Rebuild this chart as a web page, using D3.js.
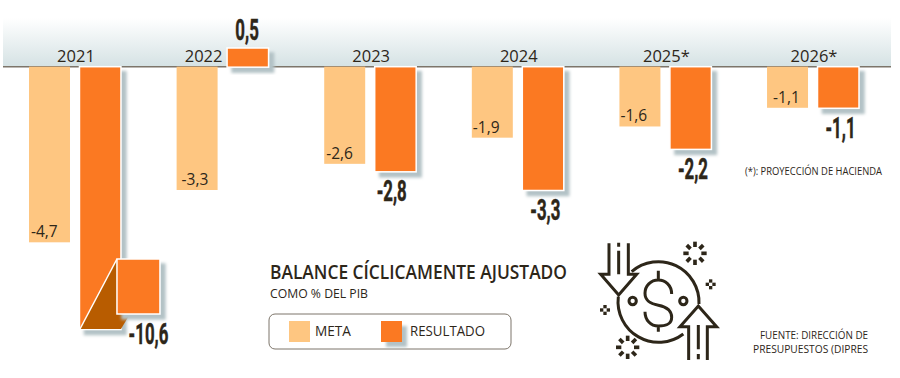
<!DOCTYPE html>
<html>
<head>
<meta charset="utf-8">
<script src="https://cdn.jsdelivr.net/npm/d3@7"></script>
<style>
  html, body { margin: 0; padding: 0; background: #fff; }
  svg { display: block; }
  text { font-family: "Open Sans", sans-serif; fill: #2d2619; }
</style>
</head>
<body>
<div id="chart"></div>
<script>
// Balance ciclicamente ajustado, meta vs resultado

const years = ["2021", "2022", "2023", "2024", "2025*", "2026*"];
const series = ["META", "RESULTADO"];
const meta = [-4.7, -3.3, -2.6, -1.9, -1.6, -1.1];
const resultado = [-10.6, 0.5, -2.8, -3.3, -2.2, -1.1];

const width = 900;
const height = 378;
const colorMeta = "#fec681";
const colorResult = "#fb7923";
const colorFold = "#b85c00";
const fmt = v => String(v).replace(".", ",");

const svg = d3.select("#chart")
  .append("svg")
  .attr("width", width)
  .attr("height", height);

const defs = svg.append("defs");

const grad = defs.append("linearGradient")
  .attr("id", "band")
  .attr("x1", 0).attr("x2", 0).attr("y1", 0).attr("y2", 1);
grad.append("stop").attr("offset", 0).attr("stop-color", "#ffffff");
grad.append("stop").attr("offset", 1).attr("stop-color", "#d5e2e4");

defs.append("filter")
  .attr("id", "shadow")
  .attr("x", "-30%").attr("y", "-30%")
  .attr("width", "170%").attr("height", "170%")
  .append("feDropShadow")
  .attr("dx", 5).attr("dy", 5)
  .attr("stdDeviation", 1.4)
  .attr("flood-color", "#b3c2c6");

const x0 = d3.scaleBand()
  .domain(years)
  .range([29, 859])
  .paddingInner(0.377)
  .paddingOuter(0);

const x1 = d3.scaleBand()
  .domain(series)
  .range([0, x0.bandwidth()])
  .paddingInner(0.196)
  .paddingOuter(0);

// clamp: the -10,6 bar is cut off at the bottom and gets the fold drawn on it
const y = d3.scaleLinear()
  .domain([-7.02, 0.5])
  .range([329, 48])
  .clamp(true);

const baseY = y(0);

// Top band
svg.append("rect")
  .attr("x", 3)
  .attr("y", 18)
  .attr("width", 888)
  .attr("height", baseY - 18)
  .attr("fill", "url(#band)");

svg.append("line")
  .attr("x1", 3)
  .attr("x2", 891)
  .attr("y1", baseY)
  .attr("y2", baseY)
  .attr("stroke", "#7d756a")
  .attr("stroke-width", 1.5);

// Year labels
svg.selectAll("text.year")
  .data(years)
  .enter()
  .append("text")
  .attr("class", "year")
  .attr("x", (d, i) => x0(d) + x0.bandwidth() / 2 + 1 + (resultado[i] > 0 ? -20 : 0))
  .attr("y", baseY - 5)
  .attr("text-anchor", "middle")
  .style("font-size", "16.5px")
  .text(d => d);

// Meta bars
svg.selectAll("rect.meta")
  .data(meta)
  .enter()
  .append("rect")
  .attr("class", "meta")
  .attr("x", (d, i) => x0(years[i]) + x1("META"))
  .attr("y", baseY)
  .attr("width", x1.bandwidth())
  .attr("height", d => y(d) - baseY)
  .attr("fill", colorMeta);

// Resultado bars
svg.selectAll("rect.result")
  .data(resultado)
  .enter()
  .append("rect")
  .attr("class", "result")
  .attr("x", (d, i) => x0(years[i]) + x1("RESULTADO") - 0.5)
  .attr("y", d => Math.min(y(d), baseY))
  .attr("width", x1.bandwidth() + 0.5)
  .attr("height", d => Math.abs(y(d) - baseY) + 0.5)
  .attr("fill", colorResult)
  .attr("stroke", "#fff")
  .attr("stroke-width", 1.5)
  .attr("filter", "url(#shadow)");

// Meta labels
const metaNudge = [2, 5, 2, 1, 1, 6];
svg.selectAll("text.metaLabel")
  .data(meta)
  .enter()
  .append("text")
  .attr("class", "metaLabel")
  .attr("x", (d, i) => x0(years[i]) + x1("META") + metaNudge[i])
  .attr("y", d => y(d) - 5)
  .style("font-size", "15.5px")
  .style("font-weight", 500)
  .text(fmt);

// Fold on the cut bar
const cutYear = years[resultado.indexOf(d3.min(resultado))];
const cutX = x0(cutYear) + x1("RESULTADO");
const cutW = x1.bandwidth();
const cutBottom = y(d3.min(resultado));

svg.append("path")
  .attr("d", d3.line()([
    [cutX, cutBottom],
    [cutX + cutW, cutBottom],
    [cutX + cutW + 9, cutBottom - 15],
    [cutX + cutW + 9, cutBottom - 70],
    [cutX + cutW - 4, cutBottom - 70]
  ]) + "Z")
  .attr("fill", colorFold)
  .attr("stroke", "none");

svg.append("line")
  .attr("x1", cutX)
  .attr("y1", cutBottom)
  .attr("x2", cutX + cutW - 4)
  .attr("y2", cutBottom - 70)
  .attr("stroke", "#fff")
  .attr("stroke-width", 1.5);

svg.append("rect")
  .attr("x", cutX + cutW - 4)
  .attr("y", cutBottom - 70)
  .attr("width", 43)
  .attr("height", 55)
  .attr("fill", colorResult)
  .attr("stroke", "#fff")
  .attr("stroke-width", 1.5)
  .attr("filter", "url(#shadow)");

// Resultado labels, condensed by squeezing the glyphs
const resultNudge = [48, -1, -4, 2, 2, 2];
svg.selectAll("text.resultLabel")
  .data(resultado)
  .enter()
  .append("text")
  .attr("class", "resultLabel")
  .attr("transform", (d, i) => {
    const cx = x0(years[i]) + x1("RESULTADO") + x1.bandwidth() / 2 + resultNudge[i];
    let by = y(d) + 30;
    if (d > 0) by = y(d) - 8;
    if (d === d3.min(resultado)) by = y(d) + 15;
    return `translate(${cx},${by}) scale(0.58,1)`;
  })
  .attr("text-anchor", "middle")
  .style("font-family", "Roboto, sans-serif")
  .style("font-weight", 700)
  .style("font-size", "29px")
  .style("stroke", "#2d2619")
  .style("stroke-width", 0.5)
  .text(fmt);

// Title
svg.append("text")
  .attr("x", 270)
  .attr("y", 279)
  .attr("textLength", 297)
  .attr("lengthAdjust", "spacingAndGlyphs")
  .style("font-size", "19px")
  .style("font-weight", 600)
  .text("BALANCE CÍCLICAMENTE AJUSTADO");

svg.append("text")
  .attr("x", 270)
  .attr("y", 298)
  .attr("textLength", 98)
  .attr("lengthAdjust", "spacingAndGlyphs")
  .style("font-size", "12.5px")
  .text("COMO % DEL PIB");

// Legend
svg.append("rect")
  .attr("x", 269)
  .attr("y", 314)
  .attr("width", 242)
  .attr("height", 35)
  .attr("rx", 6)
  .attr("fill", "#fff")
  .attr("stroke", "#7d756a")
  .attr("stroke-width", 1);

const legendX = d3.scaleOrdinal().domain(series).range([289, 381]);
const legendLen = d3.scaleOrdinal().domain(series).range([36, 75]);
const legendGap = d3.scaleOrdinal().domain(series).range([26, 29]);

svg.selectAll("rect.swatch")
  .data(series)
  .enter()
  .append("rect")
  .attr("class", "swatch")
  .attr("x", d => legendX(d))
  .attr("y", 321)
  .attr("width", 21)
  .attr("height", 21)
  .attr("fill", d => d === "META" ? colorMeta : colorResult)
  .attr("filter", d => d === "META" ? null : "url(#shadow)");

svg.selectAll("text.legend")
  .data(series)
  .enter()
  .append("text")
  .attr("class", "legend")
  .attr("x", d => legendX(d) + legendGap(d))
  .attr("y", 336)
  .attr("textLength", d => legendLen(d))
  .attr("lengthAdjust", "spacingAndGlyphs")
  .style("font-size", "15px")
  .text(d => d);

// Notes
svg.append("text")
  .attr("x", 745)
  .attr("y", 175)
  .attr("textLength", 137)
  .attr("lengthAdjust", "spacingAndGlyphs")
  .style("font-size", "10px")
  .text("(*): PROYECCIÓN DE HACIENDA");

svg.append("text")
  .attr("x", 760)
  .attr("y", 339)
  .attr("textLength", 108)
  .attr("lengthAdjust", "spacingAndGlyphs")
  .style("font-size", "10px")
  .text("FUENTE: DIRECCIÓN DE");

svg.append("text")
  .attr("x", 753)
  .attr("y", 353)
  .attr("textLength", 115)
  .attr("lengthAdjust", "spacingAndGlyphs")
  .style("font-size", "10px")
  .text("PRESUPUESTOS (DIPRES");

// Icon
const icon = svg.append("g")
  .attr("transform", "translate(590,230) scale(0.3333)")
  .attr("fill", "none")
  .attr("stroke", "#2d2619")
  .attr("stroke-width", 9);

icon.append("path").attr("d",
  "M125,125 A122,122 0 0 1 327,222" +
  "M85,200 A122,122 0 0 0 280,312");
icon.append("path").attr("d",
  "M57,40V133H32L86,195L140,133H115V40" +
  "M86,38V50M86,62V133");
icon.append("path").attr("d",
  "M296,390V290H270L325,228L380,290H352V390" +
  "M325,285V358M325,372V388");
icon.append("path").attr("d",
  "M205,122V150M205,285V305" +
  "M245,192C245,165 225,150 205,150C182,150 165,168 165,190C165,215 185,222 205,226" +
  "C225,230 245,240 245,262C245,285 225,288 205,288C182,288 165,270 165,245");
icon.append("circle").attr("cx", 128).attr("cy", 213).attr("r", 11);
icon.append("circle").attr("cx", 280).attr("cy", 213).attr("r", 11);

// Sparkles and little diamonds around the coin
[[315, 70], [113, 352]].forEach(c => {
  d3.range(8).forEach(k => {
    const a = k * Math.PI / 4;
    icon.append("line")
      .attr("x1", c[0] + 19 * Math.cos(a))
      .attr("y1", c[1] + 19 * Math.sin(a))
      .attr("x2", c[0] + 35 * Math.cos(a))
      .attr("y2", c[1] + 35 * Math.sin(a))
      .attr("stroke-width", 11);
  });
});
[[362, 163], [45, 240]].forEach(c => {
  [[0, -10], [10, 0], [0, 10], [-10, 0]].forEach(o => {
    icon.append("rect")
      .attr("x", c[0] + o[0] - 5)
      .attr("y", c[1] + o[1] - 5)
      .attr("width", 10)
      .attr("height", 10)
      .attr("fill", "#2d2619")
      .attr("stroke", "none");
  });
});
</script>
</body>
</html>
